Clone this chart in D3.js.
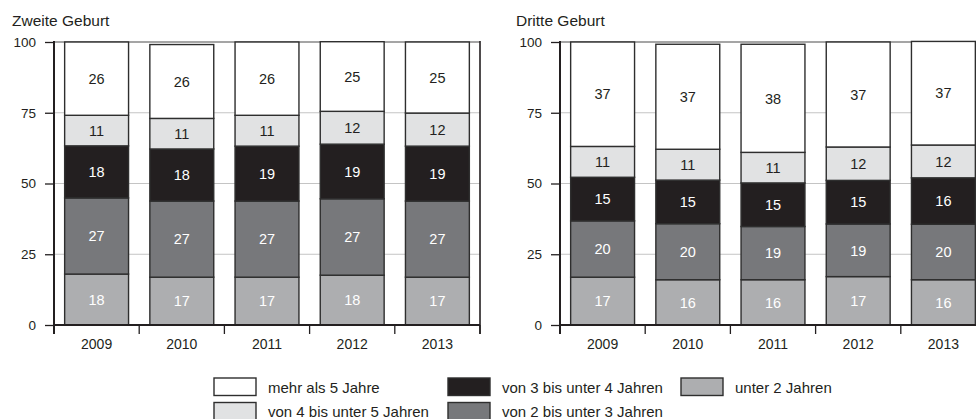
<!DOCTYPE html>
<html>
<head>
<meta charset="utf-8">
<script src="https://cdn.jsdelivr.net/npm/d3@7"></script>
<style>
  html, body { margin: 0; padding: 0; background: #ffffff; }
  svg { display: block; font-family: "Liberation Sans", Arial, Helvetica, sans-serif; }
</style>
</head>
<body>
<svg id="chart" width="976" height="419"></svg>
<script>
// ---- data ----
const years = ["2009", "2010", "2011", "2012", "2013"];
const seriesNames = ["unter 2 Jahren", "von 2 bis unter 3 Jahren", "von 3 bis unter 4 Jahren", "von 4 bis unter 5 Jahren", "mehr als 5 Jahre"];
const yTicks = [0, 25, 50, 75, 100];
const panelTitles = ["Zweite Geburt", "Dritte Geburt"];

// Zweite Geburt (per series, per year; estimated unrounded shares in %)
const zweiteUnter2 = [18.0, 16.9, 16.9, 17.6, 16.9];
const zweite2bis3  = [26.9, 26.9, 26.9, 27.0, 26.9];
const zweite3bis4  = [18.4, 18.4, 19.4, 19.3, 19.4];
const zweite4bis5  = [10.8, 10.8, 10.9, 11.6, 11.7];
const zweiteUeber5 = [25.9, 26.1, 25.9, 24.6, 25.1];

// Dritte Geburt
const dritteUnter2 = [16.9, 16.0, 16.0, 17.1, 16.0];
const dritte2bis3  = [19.9, 19.8, 18.8, 18.6, 19.6];
const dritte3bis4  = [15.4, 15.4, 15.4, 15.4, 16.4];
const dritte4bis5  = [10.9, 10.9, 10.8, 11.8, 11.6];
const dritteUeber5 = [36.9, 37.1, 38.2, 37.1, 36.6];

const fills = ["#adaeb0", "#77787b", "#231f20", "#e1e2e3", "#ffffff"];
const labelColors = ["#ffffff", "#ffffff", "#ffffff", "#231f20", "#231f20"];

// legend order as in reference
const legendItems = [
  { idx: 4, col: 0, row: 0 },
  { idx: 3, col: 0, row: 1 },
  { idx: 2, col: 1, row: 0 },
  { idx: 1, col: 1, row: 1 },
  { idx: 0, col: 2, row: 0 }
];

const svg = d3.select("#chart");

function buildRows(arrs) {
  return years.map((y, i) => {
    const o = { year: y };
    seriesNames.forEach((s, k) => { o[s] = arrs[k][i]; });
    return o;
  });
}

const panels = [
  { title: panelTitles[0], rows: buildRows([zweiteUnter2, zweite2bis3, zweite3bis4, zweite4bis5, zweiteUeber5]), x0: 54, x1: 480, titleX: 12 },
  { title: panelTitles[1], rows: buildRows([dritteUnter2, dritte2bis3, dritte3bis4, dritte4bis5, dritteUeber5]), x0: 560, x1: 986, titleX: 516 }
];

const yTop = 42, yBottom = 325;
const y = d3.scaleLinear().domain([0, 100]).range([yBottom, yTop]);

panels.forEach(p => {
  const g = svg.append("g");
  const x = d3.scaleBand().domain(years).range([p.x0, p.x1]).paddingInner(0.25).paddingOuter(0.125);
  const step = x.step();

  // title
  g.append("text").attr("x", p.titleX).attr("y", 26)
    .attr("font-size", 15.5).attr("fill", "#231f20").text(p.title);

  // gridlines
  yTicks.filter(t => t > 0).forEach(t => {
    g.append("line")
      .attr("x1", p.x0).attr("x2", p.x1)
      .attr("y1", y(t)).attr("y2", y(t))
      .attr("stroke", t === 100 ? "#a5a5a5" : "#c4c4c4")
      .attr("stroke-width", t === 100 ? 2 : 1);
  });

  // bars
  const stack = d3.stack().keys(seriesNames);
  const stacked = stack(p.rows);
  stacked.forEach((layer, k) => {
    g.append("g").selectAll("rect").data(layer).join("rect")
      .attr("x", d => x(d.data.year))
      .attr("width", x.bandwidth())
      .attr("y", d => y(d[1]))
      .attr("height", d => y(d[0]) - y(d[1]))
      .attr("fill", fills[k])
      .attr("stroke", "#2e2e2e")
      .attr("stroke-width", 1.4);
  });
  stacked.forEach((layer, k) => {
    g.append("g").selectAll("text").data(layer).join("text")
      .attr("x", d => x(d.data.year) + x.bandwidth() / 2)
      .attr("y", d => (y(d[0]) + y(d[1])) / 2)
      .attr("dy", "0.36em")
      .attr("text-anchor", "middle")
      .attr("font-size", 14.5)
      .attr("fill", labelColors[k])
      .text(d => Math.round(d[1] - d[0]));
  });

  // y axis
  const yAxis = d3.axisLeft(y).tickValues(yTicks).tickSize(9).tickPadding(9);
  const ya = g.append("g").attr("transform", `translate(${p.x0},0)`).call(yAxis);
  ya.select(".domain").remove();
  ya.selectAll(".tick line").attr("stroke", "#231f20").attr("stroke-width", 1.3);
  ya.selectAll(".tick text").attr("font-size", 13.5).attr("fill", "#231f20")
    .attr("font-family", "Liberation Sans, Arial, sans-serif");
  g.append("line").attr("x1", p.x0).attr("x2", p.x0).attr("y1", yTop - 1).attr("y2", yBottom + 9)
    .attr("stroke", "#231f20").attr("stroke-width", 2);

  // right border
  g.append("line").attr("x1", p.x1).attr("x2", p.x1).attr("y1", yTop - 1).attr("y2", yBottom + 9)
    .attr("stroke", "#231f20").attr("stroke-width", 1.6);

  // x axis
  const xa = g.append("g").attr("transform", `translate(0,${yBottom})`)
    .call(d3.axisBottom(x).tickSize(0).tickPadding(14));
  xa.select(".domain").remove();
  xa.selectAll(".tick text").attr("font-size", 14).attr("fill", "#231f20")
    .attr("font-family", "Liberation Sans, Arial, sans-serif");
  g.append("line").attr("x1", p.x0).attr("x2", p.x1).attr("y1", yBottom).attr("y2", yBottom)
    .attr("stroke", "#231f20").attr("stroke-width", 2);
  // separator ticks at band boundaries
  const bounds = years.map(yr => x(yr) - step * 0.125).concat([p.x1]);
  g.append("g").selectAll("line").data(bounds).join("line")
    .attr("x1", d => d).attr("x2", d => d)
    .attr("y1", yBottom).attr("y2", yBottom + 9)
    .attr("stroke", "#231f20").attr("stroke-width", 1.3);
});

// legend
const legCols = [214, 448, 681];
const legRows = [378, 402.5];
const lg = svg.append("g");
legendItems.forEach(it => {
  const lx = legCols[it.col], ly = legRows[it.row];
  lg.append("rect").attr("x", lx).attr("y", ly).attr("width", 42).attr("height", 17.5)
    .attr("fill", fills[it.idx]).attr("stroke", "#2e2e2e").attr("stroke-width", 1.4);
  lg.append("text").attr("x", lx + 54).attr("y", ly + 14.5)
    .attr("font-size", 15).attr("fill", "#231f20").text(seriesNames[it.idx]);
});
</script>
</body>
</html>
